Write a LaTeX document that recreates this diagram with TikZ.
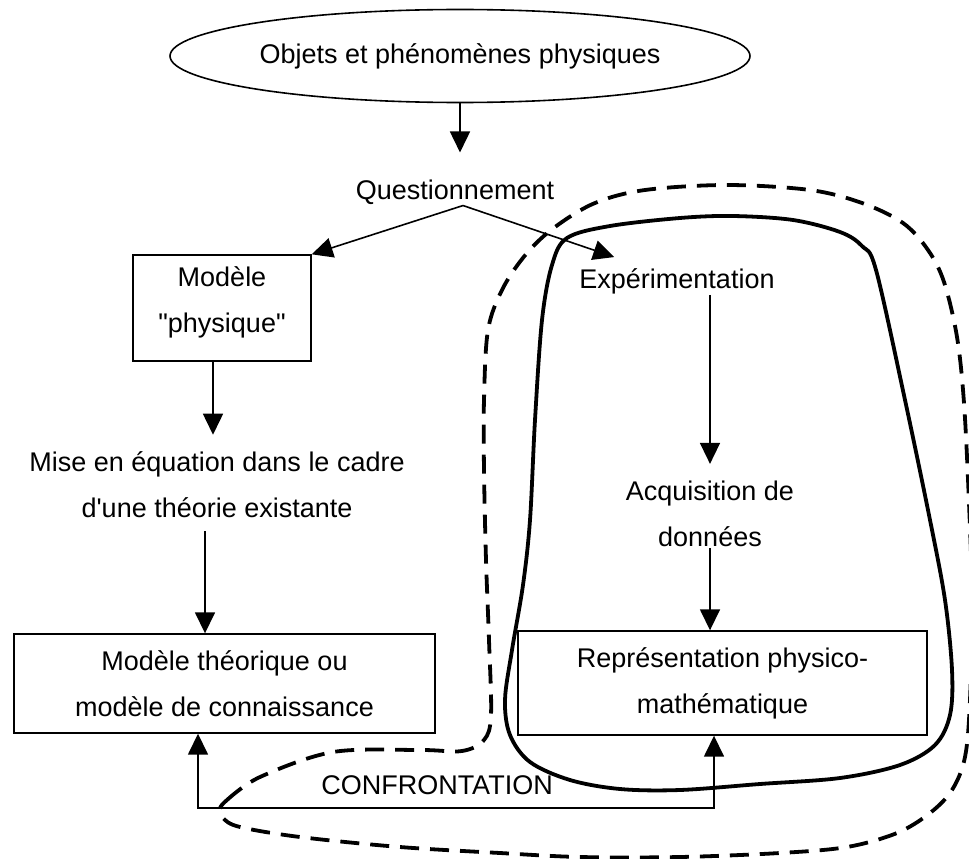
\documentclass[tikz,border=0pt]{standalone}
\usepackage{fontspec}
\setmainfont{Liberation Sans}[Ligatures=TeXOff]
\usetikzlibrary{arrows.meta,shapes.geometric}

\begin{document}
\begin{tikzpicture}[
  x=1pt, y=-1pt,
  >={Triangle[length=21pt,width=20pt]},
  every node/.style={font=\fontsize{27}{46}\selectfont},
  phenom/.style={draw, ellipse, line width=1.6pt, minimum width=580pt, minimum height=93pt, inner sep=0pt},
  txt/.style={align=center, inner sep=1pt},
  modelbox/.style={draw, line width=1.4pt, align=center, inner sep=0pt},
  arrow/.style={->, line width=1.6pt},
  biarrow/.style={<->, line width=1.6pt},
  blob/.style={line width=3.8pt, line join=round},
  fence/.style={line width=3.8pt, dash pattern=on 19pt off 11pt}
]

  \useasboundingbox (0,0) rectangle (969,859);

  \node[phenom]  (objets)   at (460,56)    {Objets et phénomènes physiques};
  \node[txt]     (quest)    at (455,192)   {Questionnement};

  \node[modelbox, minimum width=178pt, text height=77.5pt, text depth=28.5pt] (modphys) at (222,308) {Modèle\\"physique"};
  \node[txt]     (mise)     at (217,485)   {Mise en équation dans le cadre\\d'une théorie existante};
  \node[modelbox, minimum width=421pt, minimum height=99pt] (theo) at (224.5,683.5) {Modèle théorique ou\\modèle de connaissance};

  \node[txt]     (expe)     at (677,281)   {Expérimentation};
  \node[txt]     (acq)      at (710,514)   {Acquisition de\\données};
  \node[modelbox, minimum width=409pt, minimum height=104pt] (repr) at (722.5,683) {Représentation physico-\\mathématique};

  \coordinate (confr) at (440,808);
  \node[txt]     (confrtxt) at (437,785)   {CONFRONTATION};

  \draw[arrow, shorten >=26pt] (objets.south) -- (objets.south |- quest.north);
  \draw[arrow] ([xshift=8pt]quest.south) -- (modphys.north east);
  \draw[arrow] ([xshift=8pt]quest.south) -- ([xshift=36pt,yshift=10pt]expe.north west);

  \draw[arrow, shorten >=16pt] ([xshift=-9pt]modphys.south) -- ([xshift=-9pt]modphys.south |- mise.north);
  \draw[arrow, shorten <=12pt] ([xshift=-12pt]mise.south) -- ([xshift=-12pt]mise.south |- theo.north);

  \draw[arrow, shorten >=16pt] (acq.north |- expe.south) -- (acq.north);
  \draw[arrow] (acq.south) -- (acq.south |- repr.north);

  \draw[biarrow] ([xshift=-26.5pt]theo.south) |- (confr) -| ([xshift=-8.5pt]repr.south);

  \draw[blob] plot[smooth cycle, tension=0.55] coordinates {
    (567,238) (610,226) (680,218) (733,216) (793,220) (840,232) (862,246) (876,270)
    (905,400) (930,520) (945,600) (952,670) (950,715) (935,745) (900,765) (840,778)
    (760,784) (680,790) (620,789) (570,780) (530,762) (510,735) (505,700) (512,650)
    (523,585) (530,520) (535,420) (542,320) (552,265)};

  \draw[fence] plot[smooth, tension=0.55] coordinates {
    (227,800) (260,777) (333,752) (420,750) (462,751) (484,740) (491,715) (489,640)
    (486,560) (484,470) (484,400) (488,330) (503,288) (527,253) (555,227) (595,203)
    (645,190) (727,185) (810,190) (862,203) (903,223) (928,250) (944,282) (957,337)
    (964,403) (969,503) (972,600) (970,700) (965,757) (952,790) (930,813) (897,833)
    (847,847) (780,853) (680,857) (580,857) (500,853) (400,847) (300,837) (240,827)
    (223,818) (220,808) (227,800)};
\end{tikzpicture}
\end{document}
